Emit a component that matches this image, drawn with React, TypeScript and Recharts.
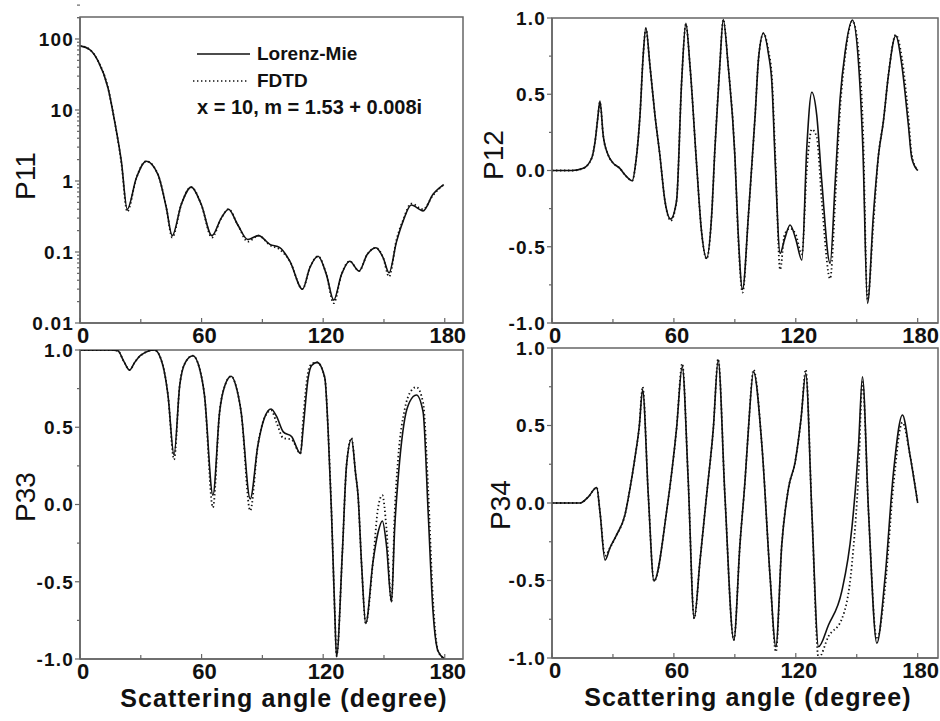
import React from 'react';
import { LineChart, Line, XAxis, YAxis, ReferenceArea, Legend } from 'recharts';

const FONT = '"Liberation Sans", Arial, Helvetica, sans-serif';
const AXIS = '#666';
const INK = '#111';

// P11 (log scale)
const P11_ANGLE = [0, 4.8, 8.9, 13.8, 17.1, 20.4, 23.3, 27.8, 32.7, 38.5,
  42.6, 45.5, 50, 54.9, 59.8, 65.1, 69.7, 73.3, 77.9, 82.8,
  88.1, 93.7, 98.6, 103.6, 109.8, 113.4, 117.5, 121.6, 125.2, 129,
  133.1, 137.7, 141.7, 146, 149.6, 152.5, 156.2, 159.4, 163.5, 169.3,
  174.2, 179.5];
const P11_MIE = [80, 71, 49, 20.6, 6.9, 1.9, 0.40, 1.1, 1.9, 1.23,
  0.42, 0.17, 0.47, 0.82, 0.47, 0.17, 0.30, 0.40, 0.24, 0.15,
  0.17, 0.128, 0.115, 0.074, 0.030, 0.06, 0.087, 0.048, 0.021, 0.048,
  0.074, 0.054, 0.092, 0.115, 0.083, 0.051, 0.14, 0.27, 0.46, 0.38,
  0.65, 0.89];
const P11_FDTD = [80, 71, 49, 20.6, 6.9, 1.8, 0.37, 1.1, 1.9, 1.23,
  0.42, 0.16, 0.47, 0.82, 0.47, 0.16, 0.30, 0.40, 0.24, 0.14,
  0.17, 0.125, 0.108, 0.074, 0.030, 0.06, 0.087, 0.048, 0.019, 0.048,
  0.074, 0.054, 0.092, 0.115, 0.083, 0.045, 0.15, 0.28, 0.48, 0.40,
  0.63, 0.89];

// P12
const P12_ANGLE = [0, 10, 15.4, 19.5, 21.2, 22.5, 23.6, 25.2, 27.7, 30,
  33.4, 36, 39.5, 41.3, 43.3, 44.9, 46.2, 48.2, 50.7, 53.1,
  55.6, 58.4, 61.3, 63.8, 65.9, 67.9, 71.2, 73.6, 76.1, 78.6,
  80.2, 82.6, 84.3, 86.7, 90, 91.6, 93.8, 96.7, 100, 101.7,
  104.1, 106.6, 108.2, 109.9, 112.3, 114.5, 117.2, 120, 123, 125.4,
  127.9, 130.3, 132.8, 136.9, 139.4, 141.8, 144.3, 147.9, 150.9, 153,
  155.3, 158.2, 160.7, 163.1, 165.6, 169.2, 172.2, 175.4, 177.1, 180];
const P12_MIE = [0, 0, 0.014, 0.08, 0.19, 0.34, 0.456, 0.23, 0.10, 0.05,
  0.014, -0.03, -0.067, 0.06, 0.36, 0.757, 0.936, 0.69, 0.36, 0.10,
  -0.2, -0.318, -0.2, 0.58, 0.965, 0.69, 0.036, -0.40, -0.576, -0.29,
  0.146, 0.69, 0.99, 0.69, 0.10, -0.40, -0.78, -0.29, 0.364, 0.74,
  0.90, 0.76, 0.58, 0.04, -0.543, -0.45, -0.357, -0.45, -0.587, 0.146,
  0.513, 0.364, -0.073, -0.609, -0.073, 0.47, 0.78, 0.987, 0.70, 0.15,
  -0.871, -0.29, 0.10, 0.32, 0.626, 0.884, 0.69, 0.30, 0.08, 0];
const P12_FDTD = [0, 0, 0.014, 0.08, 0.19, 0.34, 0.45, 0.23, 0.10, 0.05,
  0.014, -0.03, -0.067, 0.06, 0.36, 0.757, 0.93, 0.69, 0.36, 0.10,
  -0.2, -0.33, -0.2, 0.58, 0.96, 0.69, 0.036, -0.40, -0.58, -0.29,
  0.146, 0.69, 0.99, 0.69, 0.10, -0.42, -0.80, -0.29, 0.364, 0.74,
  0.90, 0.78, 0.62, 0.10, -0.65, -0.42, -0.38, -0.42, -0.55, 0.0,
  0.27, 0.22, -0.2, -0.71, -0.2, 0.40, 0.75, 0.98, 0.78, 0.30,
  -0.85, -0.35, 0.10, 0.32, 0.626, 0.89, 0.74, 0.36, 0.10, 0];

// P33
const P33_ANGLE = [0, 15, 18.7, 21.5, 24.5, 27, 30.2, 36.8, 40.9, 43.4,
  46.4, 49.2, 52, 55.7, 59, 61.4, 65.6, 68.9, 71.5, 74.6,
  77.5, 79.5, 84, 87.8, 91, 94.3, 97, 100.3, 104.4, 108.8,
  110.1, 112.6, 114.3, 117, 120.8, 122.4, 124.1, 125.7, 126.6, 129.5,
  131.5, 134, 136, 137.2, 139, 141, 144.6, 147.1, 149.2, 151.2,
  153.7, 155.3, 157, 160.3, 162.7, 166, 169.3, 171.8, 174.2, 176.7,
  180];
const P33_MIE = [1, 1, 0.995, 0.93, 0.87, 0.92, 0.968, 1.0, 0.90, 0.71,
  0.32, 0.77, 0.92, 0.963, 0.88, 0.71, 0.06, 0.60, 0.77, 0.83,
  0.74, 0.60, 0.036, 0.385, 0.56, 0.618, 0.57, 0.47, 0.44, 0.33,
  0.49, 0.82, 0.90, 0.92, 0.82, 0.49, -0.05, -0.69, -0.985, -0.3,
  0.25, 0.424, 0.2, 0.06, -0.4, -0.77, -0.37, -0.18, -0.107, -0.26,
  -0.63, -0.15, 0.17, 0.558, 0.665, 0.709, 0.60, -0.05, -0.69, -0.95,
  -1.0];
const P33_FDTD = [1, 1, 0.995, 0.93, 0.87, 0.92, 0.968, 1.0, 0.90, 0.71,
  0.29, 0.77, 0.92, 0.963, 0.88, 0.71, -0.02, 0.60, 0.77, 0.83,
  0.74, 0.60, -0.04, 0.385, 0.56, 0.61, 0.53, 0.43, 0.42, 0.33,
  0.55, 0.86, 0.91, 0.92, 0.82, 0.49, -0.05, -0.69, -0.98, -0.3,
  0.25, 0.43, 0.2, 0.06, -0.4, -0.77, -0.37, -0.02, 0.06, -0.15,
  -0.63, -0.05, 0.3, 0.62, 0.72, 0.76, 0.66, 0.10, -0.62, -0.95,
  -1.0];

// P34
const P34_ANGLE = [0, 13.8, 17.9, 22, 23.6, 26.1, 28.5, 31.8, 35.9, 38.4,
  40.8, 43, 44.6, 47.4, 50.2, 56.4, 61.3, 64.1, 67, 70,
  72.8, 76.1, 79.4, 81.8, 85.1, 89.5, 92.5, 95.1, 96.7, 99.2,
  103.3, 107.4, 110.2, 113.1, 116.4, 119.7, 122.6, 124.9, 127.9, 131.2,
  136.1, 142.6, 147.6, 150.9, 152.8, 155.8, 159.9, 163.9, 168.1, 172.5,
  176.2, 180];
const P34_MIE = [0, 0, 0.04, 0.10, -0.056, -0.368, -0.29, -0.206, -0.077, 0.095,
  0.29, 0.5, 0.73, 0.05, -0.503, -0.056, 0.48, 0.88, 0.16, -0.744,
  -0.38, 0.05, 0.48, 0.92, 0.05, -0.884, -0.27, 0.16, 0.48, 0.847,
  0.374, -0.486, -0.927, -0.27, 0.095, 0.266, 0.546, 0.837, -0.056, -0.927,
  -0.787, -0.572, -0.163, 0.374, 0.815, -0.056, -0.905, -0.486, 0.2, 0.568,
  0.31, 0];
const P34_FDTD = [0, 0, 0.04, 0.10, -0.056, -0.34, -0.29, -0.206, -0.077, 0.095,
  0.29, 0.5, 0.75, 0.05, -0.503, -0.056, 0.48, 0.90, 0.16, -0.744,
  -0.38, 0.05, 0.48, 0.93, 0.05, -0.884, -0.27, 0.16, 0.48, 0.86,
  0.374, -0.486, -0.96, -0.27, 0.095, 0.266, 0.546, 0.86, -0.056, -1.0,
  -0.86, -0.75, -0.40, 0.2, 0.78, -0.056, -0.88, -0.55, 0.12, 0.52,
  0.31, 0];

const X_TICKS = [0, 30, 60, 90, 120, 150, 180];
const X_LABELS = [0, 60, 120, 180];
const LIN_TICKS = [-1, -0.75, -0.5, -0.25, 0, 0.25, 0.5, 0.75, 1];
const LIN_LABELS = ['-1.0', '-0.5', '0.0', '0.5', '1.0'];
const LIN_LABEL_AT = [-1, -0.5, 0, 0.5, 1];
const LOG_MAJOR = [0.01, 0.1, 1, 10, 100];
const LOG_LABELS = ['0.01', '0.1', '1', '10', '100'];
const LOG_TICKS = LOG_MAJOR.flatMap((d) => [1, 2, 3, 4, 5, 6, 7, 8, 9].map((k) => d * k)).concat([200]);

const rows = (angle: number[], mie: number[], fdtd: number[]) =>
  angle.map((a, i) => ({ angle: a, mie: mie[i], fdtd: fdtd[i] }));

function XTick({ x, y, payload }: any) {
  const v = payload.value;
  const major = X_LABELS.includes(v);
  return (
    <g>
      <line x1={x} x2={x} y1={y} y2={y - (major ? 5 : 4)} stroke={AXIS} strokeWidth={1.2} />
      {major && (
        <text x={x + 3} y={y + 20} textAnchor="middle" fontFamily={FONT} fontWeight="bold" fontSize={22} fill={INK}>
          {v}
        </text>
      )}
    </g>
  );
}

const makeYTick = (at: number[], labels: string[]) => ({ x, y, payload }: any) => {
  const idx = at.findIndex((a) => Math.abs(a - payload.value) < 1e-9);
  const label = idx >= 0 ? labels[idx] : null;
  return (
    <g>
      <line x1={x} x2={x - (label ? 5 : 3)} y1={y} y2={y} stroke={AXIS} strokeWidth={1.2} />
      {label && (
        <text x={x - 6} y={y} dy="0.36em" textAnchor="end" fontFamily={FONT} fontWeight="bold"
          fontSize={19} letterSpacing={1.2} fill={INK}>
          {label}
        </text>
      )}
    </g>
  );
};
const LinTick = makeYTick(LIN_LABEL_AT, LIN_LABELS);
const LogTick = makeYTick(LOG_MAJOR, LOG_LABELS);

function XTitle({ px, py }: any) {
  return (
    <text x={px} y={py} textAnchor="middle" fontFamily={FONT} fontWeight="bold" fontSize={25}
      letterSpacing={1.1} fill={INK}>
      Scattering angle (degree)
    </text>
  );
}

function YTitle({ px, py, title }: any) {
  return (
    <text x={px} y={py} transform={`rotate(-90 ${px} ${py})`} textAnchor="middle"
      dominantBaseline="central" fontFamily={FONT} fontSize={28} fill={INK}>
      {title}
    </text>
  );
}

function P11Legend() {
  const row = { display: 'flex', alignItems: 'center', height: 27 } as const;
  return (
    <div style={{ fontFamily: FONT, fontWeight: 'bold', fontSize: 19, color: INK, whiteSpace: 'nowrap' }}>
      <div style={row}>
        <svg width={60} height={10}><line x1={4} x2={57} y1={5} y2={5} stroke={INK} strokeWidth={1.6} /></svg>
        <span style={{ marginLeft: 4 }}>Lorenz-Mie</span>
      </div>
      <div style={row}>
        <svg width={60} height={10}><line x1={0} x2={54} y1={5} y2={5} stroke={INK} strokeWidth={1.6} strokeDasharray="1.4 2.6" /></svg>
        <span style={{ marginLeft: 4 }}>FDTD</span>
      </div>
      <div style={{ ...row, paddingLeft: 4, fontSize: 20 }}>x = 10, m = 1.53 + 0.008i</div>
    </div>
  );
}

function Panel({ left, top, width, height, marginTop, marginRight, yWidth, xHeight, xMax, log, data,
  yTitle, xTitle, children }: any) {
  const yDomain = log ? [0.01, 204] : [-1, 1];
  return (
    <div style={{ position: 'absolute', left, top }}>
      <LineChart width={width} height={height} data={data}
        margin={{ top: marginTop, right: marginRight, bottom: 0, left: 0 }}>
        <XAxis dataKey="angle" type="number" domain={[0, xMax]} ticks={X_TICKS} interval={0}
          allowDataOverflow tick={XTick} tickLine={false} tickSize={0} tickMargin={0} height={xHeight}
          axisLine={{ stroke: AXIS, strokeWidth: 1.5 }} label={xTitle} />
        <YAxis type="number" scale={log ? 'log' : 'linear'} domain={yDomain} allowDataOverflow
          ticks={log ? LOG_TICKS : LIN_TICKS} interval={0} tick={log ? LogTick : LinTick}
          tickLine={false} tickSize={0} tickMargin={0} width={yWidth}
          axisLine={{ stroke: AXIS, strokeWidth: 1.5 }} label={yTitle} />
        <ReferenceArea x1={0} x2={xMax} y1={yDomain[0]} y2={yDomain[1]} fill="none" stroke={AXIS}
          strokeWidth={1.5} ifOverflow="visible" />
        <Line dataKey="fdtd" type="monotone" stroke={INK} strokeWidth={1.8} strokeDasharray="1.4 2.6"
          dot={false} isAnimationActive={false} />
        <Line dataKey="mie" type="monotone" stroke={INK} strokeWidth={1.6} dot={false} isAnimationActive={false} />
        {children}
      </LineChart>
    </div>
  );
}

export default function App() {
  return (
    <div style={{ position: 'absolute', left: 0, top: 0, width: 940, height: 721, background: '#fff' }}>
      <Panel left={0} top={0} width={470} height={360} marginTop={17} marginRight={7} yWidth={80}
        xHeight={37} xMax={189} log data={rows(P11_ANGLE, P11_MIE, P11_FDTD)}
        yTitle={<YTitle px={25} py={176} title="P11" />}>
        <Legend content={<P11Legend />} layout="vertical" align="center" verticalAlign="middle"
          wrapperStyle={{ left: 193, top: 40, width: 270 }} />
      </Panel>
      <Panel left={470} top={0} width={470} height={360} marginTop={18} marginRight={2} yWidth={82}
        xHeight={37} xMax={190} data={rows(P12_ANGLE, P12_MIE, P12_FDTD)}
        yTitle={<YTitle px={23} py={155} title="P12" />} />
      <Panel left={0} top={330} width={470} height={391} marginTop={20} marginRight={7} yWidth={80}
        xHeight={62} xMax={189} data={rows(P33_ANGLE, P33_MIE, P33_FDTD)}
        yTitle={<YTitle px={25} py={167} title="P33" />}
        xTitle={<XTitle px={284} py={377} />} />
      <Panel left={470} top={330} width={470} height={391} marginTop={18} marginRight={2} yWidth={82}
        xHeight={63} xMax={190} data={rows(P34_ANGLE, P34_MIE, P34_FDTD)}
        yTitle={<YTitle px={30} py={175} title="P34" />}
        xTitle={<XTitle px={278} py={376} />} />
    </div>
  );
}
